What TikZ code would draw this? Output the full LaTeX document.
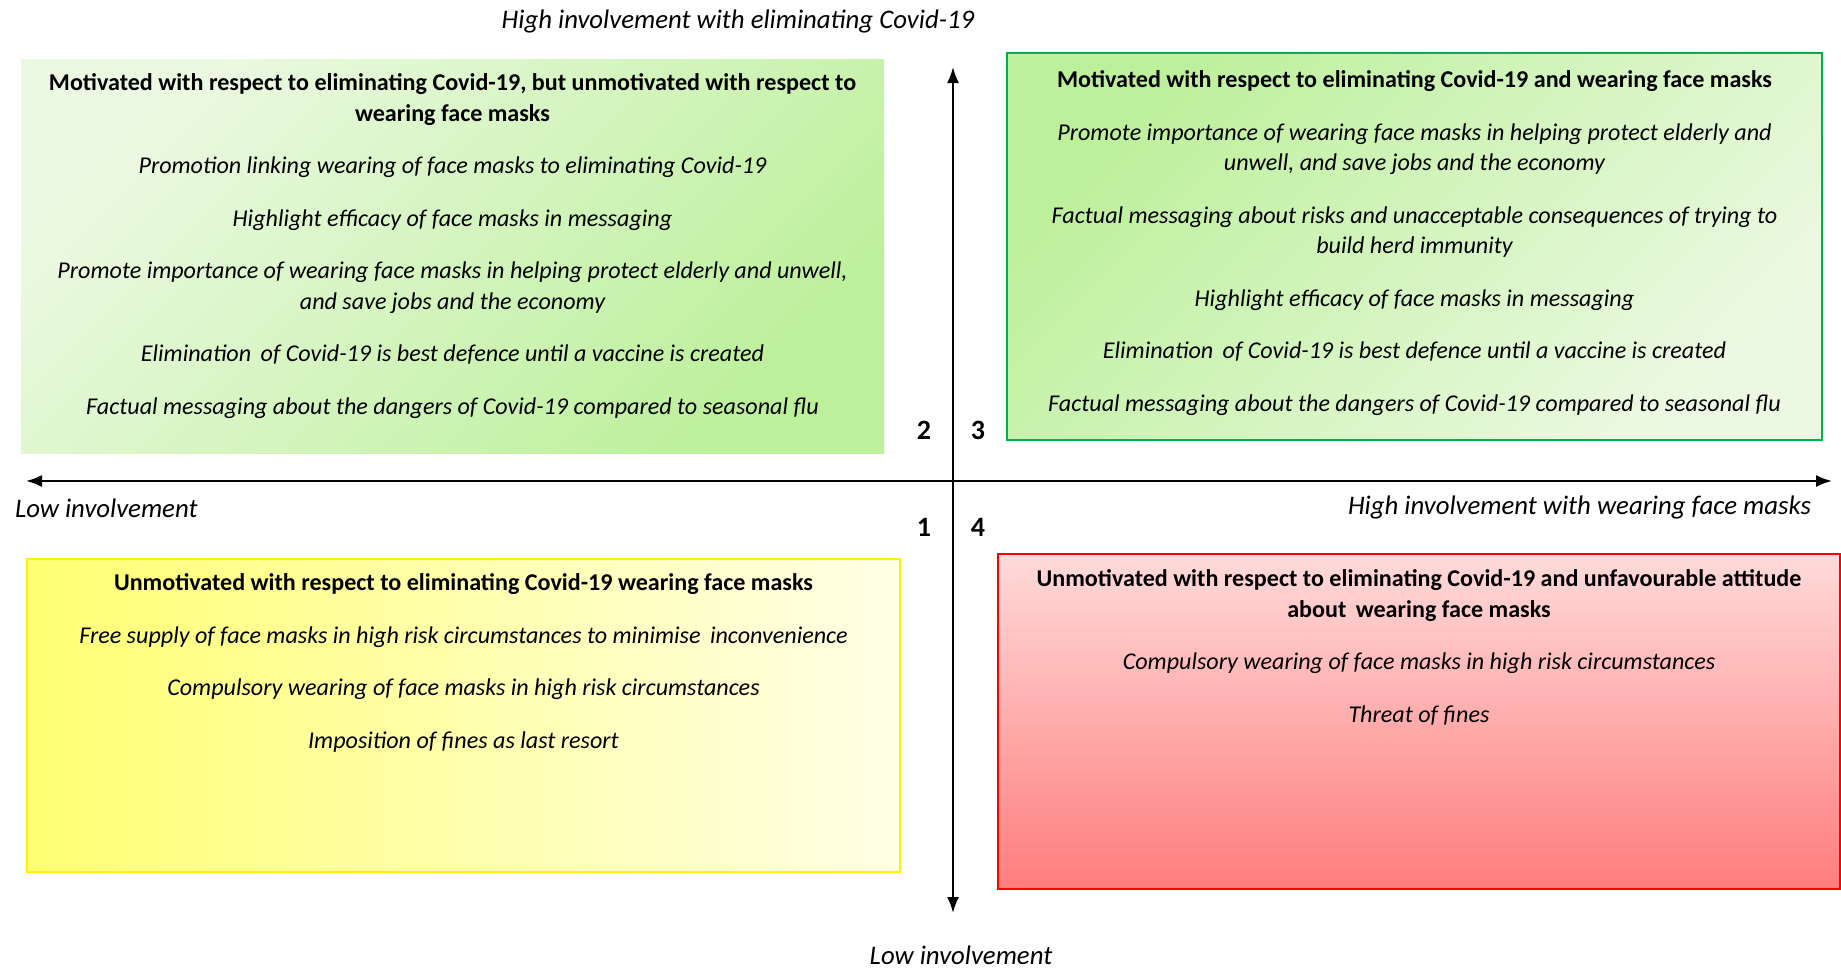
\documentclass[tikz,border=0pt]{standalone}
\usepackage{fontspec}
\setmainfont{Carlito}
\usetikzlibrary{positioning,arrows.meta}
\definecolor{lgreen}{RGB}{236,249,226}
\definecolor{dgreen}{RGB}{188,240,155}
\definecolor{bgreen}{RGB}{0,176,80}
\definecolor{dyellow}{RGB}{255,255,115}
\definecolor{lyellow}{RGB}{255,255,230}
\definecolor{lred}{RGB}{255,218,218}
\definecolor{dred}{RGB}{255,125,125}
\newcommand{\hd}[1]{\textup{\textbf{#1}}}
\begin{document}
\begin{tikzpicture}[x=0.5pt,y=-0.5pt,line width=1.0pt,>={Latex[length=8pt,width=6pt]},
  quad/.style={rectangle,inner sep=0pt,line width=1.2pt},
  txt/.style={align=center,inner sep=0pt,font=\fontsize{12.05}{15.25}\selectfont\itshape},
  lab/.style={inner sep=0pt,font=\fontsize{13.4}{16}\selectfont\itshape},
  num/.style={inner sep=0pt,font=\fontsize{14}{16}\selectfont\bfseries}]
\useasboundingbox (0,0) rectangle (1841,970);
% quadrant boxes
\node[quad,minimum width=431.5pt,minimum height=197pt,top color=lgreen,bottom color=dgreen,shading angle=45] (q2) at (452.5,256) {};
\node[quad,draw=bgreen,minimum width=407.5pt,minimum height=193.5pt,top color=dgreen,bottom color=lgreen,shading angle=45] (q3) at (1414.5,246.5) {};
\node[quad,draw=yellow,minimum width=436.5pt,minimum height=156.5pt,left color=dyellow,right color=lyellow] (q1) at (463.5,715.5) {};
\node[quad,draw=red,minimum width=421pt,minimum height=167.5pt,top color=lred,bottom color=dred] (q4) at (1419,721.5) {};
% texts
\node[txt,below=7.5pt of q2.north] (t2) {\hd{Motivated with respect to eliminating Covid-19, but unmotivated with respect to}\\ \hd{wearing face masks}\\[11pt]
  Promotion linking wearing of face masks to eliminating Covid-19\\[11pt]
  Highlight efficacy of face masks in messaging\\[11pt]
  Promote importance of wearing face masks in helping protect elderly and unwell,\\ and save jobs and the economy\\[11pt]
  Elimination\, of Covid-19 is best defence until a vaccine is created\\[11pt]
  Factual messaging about the dangers of Covid-19 compared to seasonal flu};
\node[txt,below=9pt of q3.north] (t3) {\hd{Motivated with respect to eliminating Covid-19 and wearing face masks}\\[11pt]
  Promote importance of wearing face masks in helping protect elderly and\\ unwell, and save jobs and the economy\\[11pt]
  Factual messaging about risks and unacceptable consequences of trying to\\ build herd immunity\\[11pt]
  Highlight efficacy of face masks in messaging\\[11pt]
  Elimination\, of Covid-19 is best defence until a vaccine is created\\[11pt]
  Factual messaging about the dangers of Covid-19 compared to seasonal flu};
\node[txt,below=7.5pt of q1.north] (t1) {\hd{Unmotivated with respect to eliminating Covid-19 wearing face masks}\\[11pt]
  Free supply of face masks in high risk circumstances to minimise\, inconvenience\\[11pt]
  Compulsory wearing of face masks in high risk circumstances\\[11pt]
  Imposition of fines as last resort};
\node[txt,below=8pt of q4.north] (t4) {\hd{Unmotivated with respect to eliminating Covid-19 and unfavourable attitude}\\ \hd{about\, wearing face masks}\\[11pt]
  Compulsory wearing of face masks in high risk circumstances\\[11pt]
  Threat of fines};
% axes
\coordinate (xl) at (26,481);
\coordinate (xr) at (1832,481);
\coordinate (yt) at (953,67);
\coordinate (yb) at (953,913);
\draw[<->] (xl) -- (xr);
\draw[<->] (yt) -- (yb);
\node[lab] (ht) at (738,21) {High involvement with eliminating Covid-19};
\node[lab,anchor=west] (ll) at (14,508) {Low involvement};
\node[lab,anchor=east] (hr) at (1812,507) {High involvement with wearing face masks};
\node[lab] (lb) at (961,955) {Low involvement};
\node[num] (n2) at (924,430) {2};
\node[num] (n3) at (978,430) {3};
\node[num] (n1) at (924,527) {1};
\node[num] (n4) at (978,527) {4};
\end{tikzpicture}
\end{document}
